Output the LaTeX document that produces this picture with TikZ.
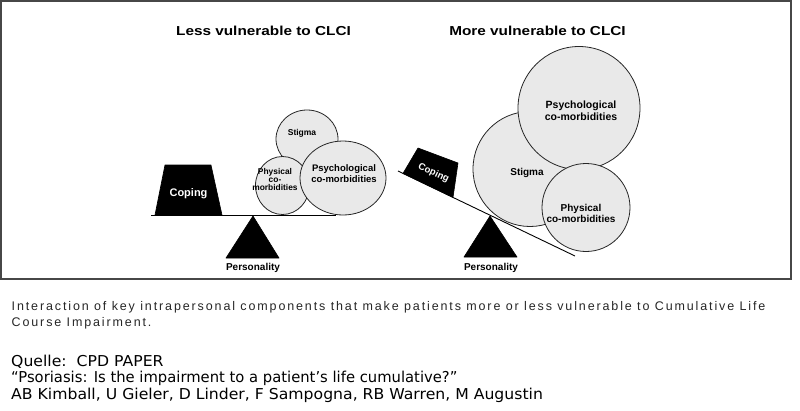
\documentclass[tikz,border=0pt]{standalone}
\usepackage{fontspec}
\setmainfont{Liberation Sans}
\newfontfamily\capfont[LetterSpace=15]{Liberation Sans}
\newfontfamily\verd{DejaVu Sans}
\usetikzlibrary{shapes.geometric}
\tikzset{
  frame/.style={draw=black!72, line width=1.4pt},
  ball/.style={ellipse, draw=black!85, line width=0.8pt, fill=gray!17, inner sep=0pt, outer sep=0pt},
  beam/.style={draw=black, line width=0.9pt},
  weight/.style={fill=black, draw=black, line width=0.6pt, line join=round},
  ttl/.style={font=\bfseries\fontsize{13}{15}\selectfont, xscale=1.18, anchor=base, inner sep=0pt},
  lbl/.style n args={2}{font=\bfseries\fontsize{#1}{#2}\selectfont, align=center, inner sep=0pt},
  pers/.style={font=\bfseries\fontsize{10}{12}\selectfont, anchor=base, inner sep=0pt},
  cop/.style={font=\bfseries\fontsize{11}{12}\selectfont, text=white, inner sep=0pt},
  captxt/.style={font=\capfont\fontsize{12.5}{14}\selectfont, text=black!85, anchor=base west, inner sep=0pt},
  srctxt/.style={font=\verd\fontsize{15}{17}\selectfont, anchor=base west, inner sep=0pt}
}
\begin{document}
\begin{tikzpicture}[x=1pt,y=-1pt]
\useasboundingbox (0,0) rectangle (800,410);
% frame
\draw[frame] (1,1) rectangle (791,279);

% titles
\node[ttl] (t1) at (263.5,35) {Less vulnerable to CLCI};
\node[ttl] (t2) at (537.5,35) {More vulnerable to CLCI};

% ---------- left scale ----------
\coordinate (lb1) at (151,215);
\coordinate (lb2) at (336,215);
\draw[beam] (lb1) -- (lb2);
\draw[weight] (155,215) -- (165,165) -- (211,165) -- (222,215) -- cycle;
\node[cop] (copL) at (188.5,194) {Coping};
\draw[weight] (253,216) -- (279,258) -- (226,258) -- cycle;
\node[pers] (persL) at (253,270) {Personality};

\node[ball, minimum width=62pt, minimum height=58pt] (stigL) at (307,139) {};
\node[ball, minimum width=54pt, minimum height=58pt] (physL) at (282.5,185.5) {};
\node[ball, minimum width=86pt, minimum height=74pt] (psyL) at (343,178) {};
\node[lbl={8.5}{9.5}] (stigLt) at (302,133) {Stigma};
\node[lbl={8.4}{8.2}] (physLt) at (275,179.5) {Physical\\co-\\morbidities};
\node[lbl={9.5}{11}] (psyLt) at (344,174) {Psychological\\co-morbidities};

% ---------- right scale ----------
\node[ball, minimum width=114pt, minimum height=115pt] (stigR) at (530,169) {};
\node[ball, minimum width=122pt, minimum height=123pt] (psyR) at (579,108) {};
\node[ball, minimum width=88pt, minimum height=88pt] (physR) at (586,207.5) {};
\coordinate (rb1) at (398,171);
\coordinate (rb2) at (575,256);
\draw[beam] (rb1) -- (rb2);
\draw[weight] (403,173.4) -- (418,148) -- (458,163) -- (453,197.4) -- cycle;
\node[cop, font=\bfseries\fontsize{9.5}{11}\selectfont, rotate=-25] (copR) at (433.5,173) {Coping};
\draw[weight] (490,216) -- (517,257) -- (464,257) -- cycle;
\node[pers] (persR) at (491,270) {Personality};

\node[lbl={10.5}{12.3}] (psyRt) at (581,111) {Psychological\\co-morbidities};
\node[lbl={10}{11}] (stigRt) at (527,173) {Stigma};
\node[lbl={10}{11}] (physRt) at (581,213.5) {Physical\\co-morbidities};

% ---------- caption ----------
\node[captxt] (cap1) at (11.5,310.5) {Interaction of key intrapersonal components that make patients more or less vulnerable to Cumulative Life};
\node[captxt] (cap2) at (11.5,326.5) {Course Impairment.};

\node[srctxt, xscale=1.045] (src1) at (11,366) {Quelle:\ \ CPD PAPER};
\node[srctxt, xscale=0.985] (src2) at (11,382.5) {“Psoriasis: Is the impairment to a patient’s life cumulative?”};
\node[srctxt, xscale=1.045] (src3) at (11,399) {AB Kimball, U Gieler, D Linder, F Sampogna, RB Warren, M Augustin};
\end{tikzpicture}
\end{document}
